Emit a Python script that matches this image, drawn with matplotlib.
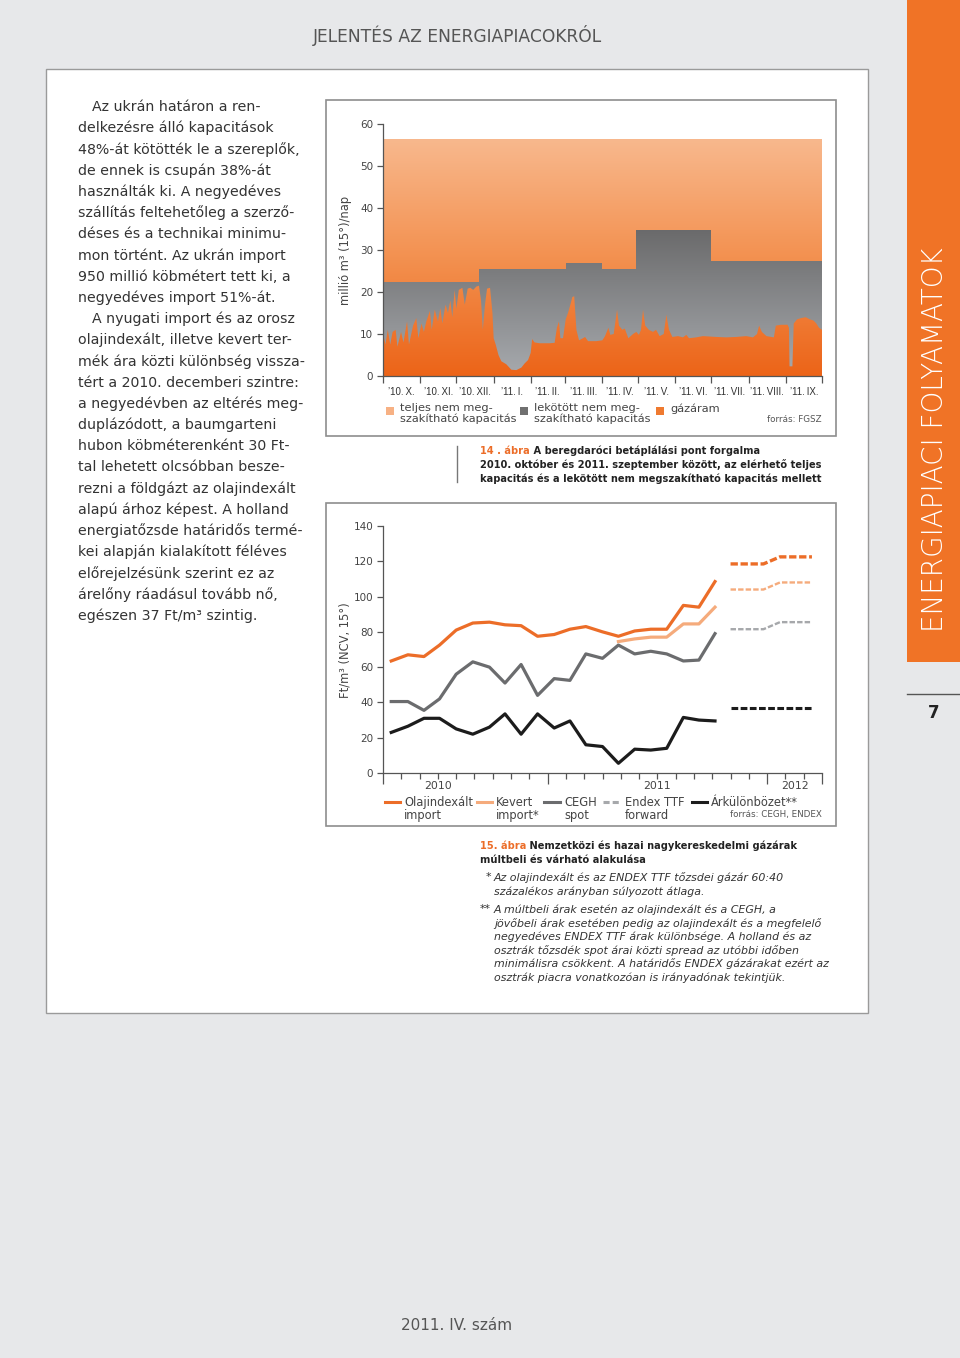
import numpy as np
import matplotlib.pyplot as plt
from matplotlib import font_manager
from matplotlib.patches import Rectangle
from matplotlib.lines import Line2D
from matplotlib.colors import LinearSegmentedColormap

W, H = 960, 1358


def fx(px):
    return px / W


def fy(py):
    return 1 - py / H


# ---- 14. abra: beregdaroci betaplalasi pont (day index from 2010-10-01)
flow_day = [0, 1, 2, 4, 6, 8, 10.5, 12, 15, 17, 20, 21.6, 25, 27.7, 29.4,
            32, 34, 36, 39, 40.5, 43, 45.7, 47.7, 49.3, 52, 54, 56, 57.6, 59.6, 61,
            63, 66, 68, 70.4, 72.6, 75, 77.6, 79.8, 81.5, 83, 84.8, 86.5, 89, 91,
            92, 93.7, 96, 98.4, 102.5, 106.7, 110.9, 115, 117.8, 120.6, 122.8, 124, 126,
            130, 138.6, 142.7, 144.6, 146.3, 147.5, 149.7, 151.9, 153.8,
            155.8, 157.4, 159, 160.8, 163, 166.3, 168, 170.5, 177.4, 182.4,
            184.6, 187.4, 189, 191.8, 194.6, 196.2, 199, 201, 204, 207.9, 210.6, 212.8,
            214.5, 216.2, 218, 221, 224.5, 227, 230, 233.4, 235.6, 237.8, 240.6,
            245.3, 249.4, 252.2, 254.4, 260.5, 266, 271.6, 277, 285.5, 293.8, 302,
            307.6, 311, 312.7, 315, 318.8, 325, 326.6, 331, 336.4, 337.5, 338, 340.4,
            341.5, 344.3, 347.8, 351.5, 354.8, 358, 360.3, 362.5, 365]
flow_val = [5.0, 9.0, 7.5, 11.0, 7.5, 10.5, 11.0, 7.0, 10.5, 8.0, 13.0, 7.5, 12.0, 13.8, 9.0,
            12.5, 10.5, 13.0, 15.5, 11.0, 15.8, 13.0, 16.2, 12.5, 17.0, 15.0, 18.0, 14.0, 20.5, 16.0,
            20.5, 21.0, 17.0, 20.8, 21.0, 20.5, 21.3, 21.5, 18.0, 11.0, 17.0, 20.8, 21.0, 15.0,
            9.0, 7.5, 5.0, 3.5, 2.8, 1.5, 1.4, 2.0, 3.0, 3.8, 5.5, 8.8, 8.0,
            7.8, 7.8, 7.9, 11.5, 13.0, 9.0, 9.0, 13.5, 15.0,
            17.0, 18.8, 19.0, 11.0, 8.5, 9.0, 9.3, 8.3, 8.3, 8.5,
            9.5, 11.5, 9.8, 10.0, 15.8, 12.0, 11.0, 11.3, 9.0, 10.0, 10.5, 9.8,
            11.0, 15.8, 12.0, 11.0, 10.5, 11.0, 9.5, 10.0, 14.6, 11.0, 9.3,
            9.5, 9.2, 9.8, 9.0, 9.2, 9.5, 9.4, 9.3, 9.2, 9.3, 9.5,
            9.2, 10.0, 12.0, 10.5, 9.5, 9.2, 12.0, 12.2, 12.2, 11.5, 2.3, 2.3,
            12.5, 13.5, 13.8, 14.0, 13.5, 13.2, 12.5, 11.5, 11.0]
booked_day = [0, 80, 152, 182, 210, 273, 365]
booked_val = [22.5, 25.5, 27.0, 25.5, 34.8, 27.3, 27.3]
total_cap = 56.3
month_start = [0, 31, 61, 92, 123, 151, 182, 212, 243, 273, 304, 335, 365]
month_lbl = ["’10.\u2009X.", "’10.\u2009XI.", "’10.\u2009XII.", "’11.\u2009I.",
             "’11.\u2009II.", "’11.\u2009III.", "’11.\u2009IV.", "’11.\u2009V.",
             "’11.\u2009VI.", "’11.\u2009VII.", "’11.\u2009VIII.", "’11.\u2009IX."]

# ---- 15. abra: gazarak (x in months from the axis start)
hist_x = [0.45, 1.36, 2.24, 3.09, 4.0, 4.91, 5.82, 6.67, 7.55, 8.45, 9.36, 10.22,
          11.09, 12.0, 12.87, 13.76, 14.64, 15.51, 16.42, 17.27, 18.15]
oil = [63.5, 67, 66, 72.5, 81, 85, 85.5, 84, 83.5, 77.5, 78.5, 81.5, 83, 80, 77.5,
       80.5, 81.5, 81.5, 95, 94, 108.5]
mixed = [74.5, 76, 77, 77, 84.5, 84.5, 94]   # from point 14
cegh = [40.5, 40.5, 35.5, 42, 56, 63, 60, 51, 61.5, 44, 53.5, 52.5, 67.5, 65, 72.5,
        67.5, 69, 67.5, 63.5, 64, 79]
diff = [23, 26.5, 31, 31, 25, 22, 26, 33.5, 22, 33.5, 25.5, 29.5, 16, 15, 5.5,
        13.5, 13, 14, 31.5, 30, 29.5]
fc_x = [19.0, 20.8, 21.7, 23.45]
fc_oil = [118.5, 118.5, 122.5, 122.5]
fc_mixed = [104, 104, 108, 108]
fc_ttf = [81.5, 81.5, 85.5, 85.5]
fc_diff = [37, 37, 37, 37]
year_lbl = ["2010", "2011", "2012"]
year_pos = [3, 15, 22.5]

ORANGE = "#ec6d28"
LORANGE = "#f5ab7c"
GRAY = "#6b6c6e"
LGRAY = "#a6a8ab"
BLACK = "#1c1c1c"
TXT = "#333333"

installed = {f.name for f in font_manager.fontManager.ttflist}
NARROW = "Liberation Sans" if "Liberation Sans" in installed else "DejaVu Sans"

fig = plt.figure(figsize=(9.6, 13.58), dpi=100, facecolor="#e7e8ea")

# page furniture
fig.add_artist(Rectangle((fx(46), fy(1013)), fx(868) - fx(46), (1013 - 69) / H,
                         transform=fig.transFigure, facecolor="white",
                         edgecolor="#9a9a9a", lw=1, zorder=-3))
for top, bot in [(100, 436), (503, 826)]:
    fig.add_artist(Rectangle((fx(326), fy(bot)), fx(836) - fx(326), (bot - top) / H,
                             transform=fig.transFigure, facecolor="white",
                             edgecolor="#8e8e8e", lw=1.2, zorder=-2))
fig.add_artist(Rectangle((fx(907), fy(662)), fx(960) - fx(907), 662 / H,
                         transform=fig.transFigure, facecolor="#f07326",
                         edgecolor="none", zorder=-2))
fig.add_artist(Line2D([fx(907), fx(960)], [fy(694), fy(694)], transform=fig.transFigure,
                      color="#555555", lw=1))
fig.text(fx(935), fy(440), "ENERGIAPIACI FOLYAMATOK", rotation=90, ha="center",
         va="center", color="white", fontsize=20, fontweight="light")
fig.text(fx(934), fy(713), "7", ha="center", va="center", color="#222222",
         fontsize=12, fontweight="bold")
fig.text(fx(457), fy(35), "JELENTÉS AZ ENERGIAPIACOKRÓL", ha="center", va="center",
         color="#555555", fontsize=12.3)
fig.text(fx(457), fy(1325), "2011. IV. szám", ha="center", va="center",
         color="#555555", fontsize=11)

# left column text
body = ["Az ukrán határon a ren-", "delkezésre álló kapacitások",
        "48%-át kötötték le a szereplők,", "de ennek is csupán 38%-át",
        "használták ki. A negyedéves", "szállítás feltehetőleg a szerző-",
        "déses és a technikai minimu-", "mon történt. Az ukrán import",
        "950 millió köbmétert tett ki, a", "negyedéves import 51%-át.",
        "A nyugati import és az orosz", "olajindexált, illetve kevert ter-",
        "mék ára közti különbség vissza-", "tért a 2010. decemberi szintre:",
        "a negyedévben az eltérés meg-", "duplázódott, a baumgarteni",
        "hubon köbméterenként 30 Ft-", "tal lehetett olcsóbban besze-",
        "rezni a földgázt az olajindexált", "alapú árhoz képest. A holland",
        "energiatőzsde határidős termé-", "kei alapján kialakított féléves",
        "előrejelzésünk szerint ez az", "árelőny ráadásul tovább nő,",
        "egészen 37 Ft/m³ szintig."]
for i, line in enumerate(body):
    x0 = 92 if i in (0, 10) else 78
    fig.text(fx(x0), fy(107 + i * 21.2), line, ha="left", va="center",
             color=TXT, fontsize=10.15)

# ---------------- chart 14
ax1 = fig.add_axes([fx(383), fy(376), (822 - 383) / W, (376 - 124) / H])
ax1.patch.set_visible(False)
orange_cm = LinearSegmentedColormap.from_list("og", ["#ec6418", "#f39150", "#f8b88d"])
gray_cm = LinearSegmentedColormap.from_list("gg", ["#a7aaae", "#6a6a6b"])
grad = np.linspace(0, 1, 256).reshape(-1, 1)
ax1.imshow(grad, cmap=orange_cm, origin="lower", extent=[0, 365, 0, total_cap],
           aspect="auto", zorder=1)
bk = ax1.fill_between(booked_day, 0, booked_val, step="post", facecolor="none",
                      edgecolor="none")
im_g = ax1.imshow(grad, cmap=gray_cm, origin="lower",
                  extent=[0, 365, 0, max(booked_val)], aspect="auto", zorder=2)
im_g.set_clip_path(bk.get_paths()[0], transform=ax1.transData)
fl = ax1.fill_between(flow_day, 0, flow_val, facecolor="none", edgecolor="none")
im_f = ax1.imshow(grad, cmap=orange_cm, origin="lower", extent=[0, 365, 0, total_cap],
                  aspect="auto", zorder=3)
im_f.set_clip_path(fl.get_paths()[0], transform=ax1.transData)
ax1.set_xlim(0, 365)
ax1.set_ylim(0, 60)
for s in ["top", "right"]:
    ax1.spines[s].set_visible(False)
for s in ["left", "bottom"]:
    ax1.spines[s].set_color("#555555")
    ax1.spines[s].set_linewidth(0.9)
    ax1.spines[s].set_zorder(5)
ax1.set_yticks(range(0, 61, 10))
ax1.tick_params(axis="y", length=4, width=0.9, color="#555555", labelsize=7.5,
                labelcolor="#444444", pad=3)
ax1.set_xticks(month_start)
ax1.set_xticklabels([])
ax1.set_xticks([(a + b) / 2 for a, b in zip(month_start[:-1], month_start[1:])],
               minor=True)
ax1.set_xticklabels(month_lbl, minor=True, family=NARROW)
ax1.tick_params(axis="x", which="major", length=5, width=0.9, color="#555555")
ax1.tick_params(axis="x", which="minor", length=0, labelsize=7.0, labelcolor="#333333",
                pad=8)
fig.text(fx(345), fy(250), "millió m³ (15°)/nap", rotation=90, ha="center",
         va="center", color="#444444", fontsize=8.3)

# legend 14
for x0, col, lab in [(386, "#f7b184", "teljes nem meg-\nszakítható kapacitás"),
                     (520, "#707070", "lekötött nem meg-\nszakítható kapacitás"),
                     (656, "#ef7a30", "gázáram")]:
    fig.add_artist(Rectangle((fx(x0), fy(415)), 8 / W, 8 / H, transform=fig.transFigure,
                             facecolor=col, edgecolor="none"))
    fig.text(fx(x0 + 14), fy(403), lab, ha="left", va="top", color="#444444",
             fontsize=8.2, linespacing=1.05)
fig.text(fx(822), fy(420), "forrás: FGSZ", ha="right", va="center",
         color="#555555", fontsize=6.3)

# caption 14
fig.add_artist(Line2D([fx(457), fx(457)], [fy(446), fy(482)], transform=fig.transFigure,
                      color="#777777", lw=1))
t14 = fig.text(fx(480), fy(451), "14 . ábra", ha="left", va="center", color=ORANGE,
               fontsize=7.15, fontweight="bold")
ax1.annotate(" A beregdaróci betáplálási pont forgalma", xy=(1, 0.5), xycoords=t14,
             ha="left", va="center", color="#222222", fontsize=7.15, fontweight="bold",
             annotation_clip=False)
for i, line in enumerate(["2010. október és 2011. szeptember között, az elérhető teljes",
                          "kapacitás és a lekötött nem megszakítható kapacitás mellett"]):
    fig.text(fx(480), fy(465 + i * 14), line, ha="left", va="center", color="#222222",
             fontsize=7.15, fontweight="bold")

# ---------------- chart 15
ax2 = fig.add_axes([fx(383), fy(773), (822 - 383) / W, (773 - 526) / H])
ax2.patch.set_visible(False)
ax2.plot(hist_x, oil, color=ORANGE, lw=2.3)
ax2.plot(hist_x[14:], mixed, color=LORANGE, lw=2.3)
ax2.plot(hist_x, cegh, color=GRAY, lw=2.3)
ax2.plot(hist_x, diff, color=BLACK, lw=2.3)
ax2.plot(fc_x, fc_oil, color=ORANGE, lw=2.4, ls=(0, (2.2, 0.8)))
ax2.plot(fc_x, fc_mixed, color=LORANGE, lw=1.7, ls=(0, (2.3, 0.9)))
ax2.plot(fc_x, fc_ttf, color=LGRAY, lw=1.7, ls=(0, (2.3, 0.9)))
ax2.plot(fc_x, fc_diff, color=BLACK, lw=2.2, ls=(0, (2.2, 0.8)))
ax2.set_xlim(0, 24)
ax2.set_ylim(0, 140)
for s in ["top", "right"]:
    ax2.spines[s].set_visible(False)
for s in ["left", "bottom"]:
    ax2.spines[s].set_color("#555555")
    ax2.spines[s].set_linewidth(0.9)
ax2.set_yticks(range(0, 141, 20))
ax2.tick_params(axis="y", length=4, width=0.9, color="#555555", labelsize=7.5,
                labelcolor="#444444", pad=3)
ax2.set_xticks([0, 9, 21, 24])
ax2.set_xticks([m for m in range(25) if m not in (0, 9, 21, 24)], minor=True)
ax2.set_xticklabels([])
ax2.tick_params(axis="x", which="major", length=8, width=0.9, color="#555555")
ax2.tick_params(axis="x", which="minor", length=4, width=0.9, color="#555555")
for lab, pos in zip(year_lbl, year_pos):
    ax2.text(pos, -0.053, lab, transform=ax2.get_xaxis_transform(), ha="center",
             va="center", color="#444444", fontsize=7.8)
fig.text(fx(345), fy(650), "Ft/m³ (NCV, 15°)", rotation=90, ha="center",
         va="center", color="#444444", fontsize=8.3)

# legend 15
leg = [(385, 400, ORANGE, "-", "Olajindexált\nimport"),
       (477, 492, LORANGE, "-", "Kevert\nimport*"),
       (544, 560, GRAY, "-", "CEGH\nspot"),
       (603, 621, LGRAY, (0, (2, 1)), "Endex TTF\nforward"),
       (692, 707, BLACK, "-", "Árkülönbözet**")]
for x0, x1, col, ls, lab in leg:
    fig.add_artist(Line2D([fx(x0), fx(x1)], [fy(802), fy(802)], transform=fig.transFigure,
                          color=col, lw=2.2, ls=ls))
    fig.text(fx(x1 + 4), fy(796), lab, ha="left", va="top", color="#444444",
             fontsize=8.3, linespacing=1.0)
fig.text(fx(822), fy(815), "forrás: CEGH, ENDEX", ha="right", va="center",
         color="#555555", fontsize=6.3)

# caption 15
t15 = fig.text(fx(480), fy(846), "15. ábra", ha="left", va="center", color=ORANGE,
               fontsize=7.15, fontweight="bold")
ax2.annotate(" Nemzetközi és hazai nagykereskedelmi gázárak", xy=(1, 0.5),
             xycoords=t15, ha="left", va="center", color="#222222", fontsize=7.15,
             fontweight="bold", annotation_clip=False)
fig.text(fx(480), fy(860), "múltbeli és várható alakulása", ha="left", va="center",
         color="#222222", fontsize=7.15, fontweight="bold")
notes = [("*", ["Az olajindexált és az ENDEX TTF tőzsdei gázár 60:40",
                "százalékos arányban súlyozott átlaga."], 878),
         ("**", ["A múltbeli árak esetén az olajindexált és a CEGH, a",
                 "jövőbeli árak esetében pedig az olajindexált és a megfelelő",
                 "negyedéves ENDEX TTF árak különbsége. A holland és az",
                 "osztrák tőzsdék spot árai közti spread az utóbbi időben",
                 "minimálisra csökkent. A határidős ENDEX gázárakat ezért az",
                 "osztrák piacra vonatkozóan is irányadónak tekintjük."], 910)]
for mark, lines, y0 in notes:
    fig.text(fx(491), fy(y0 - 1), mark, ha="right", va="center", color="#333333",
             fontsize=7.9, fontstyle="italic")
    for i, line in enumerate(lines):
        fig.text(fx(494), fy(y0 + i * 13.5), line, ha="left", va="center",
                 color="#333333", fontsize=7.9, fontstyle="italic")

fig.savefig("out.png", dpi=100, facecolor=fig.get_facecolor())
